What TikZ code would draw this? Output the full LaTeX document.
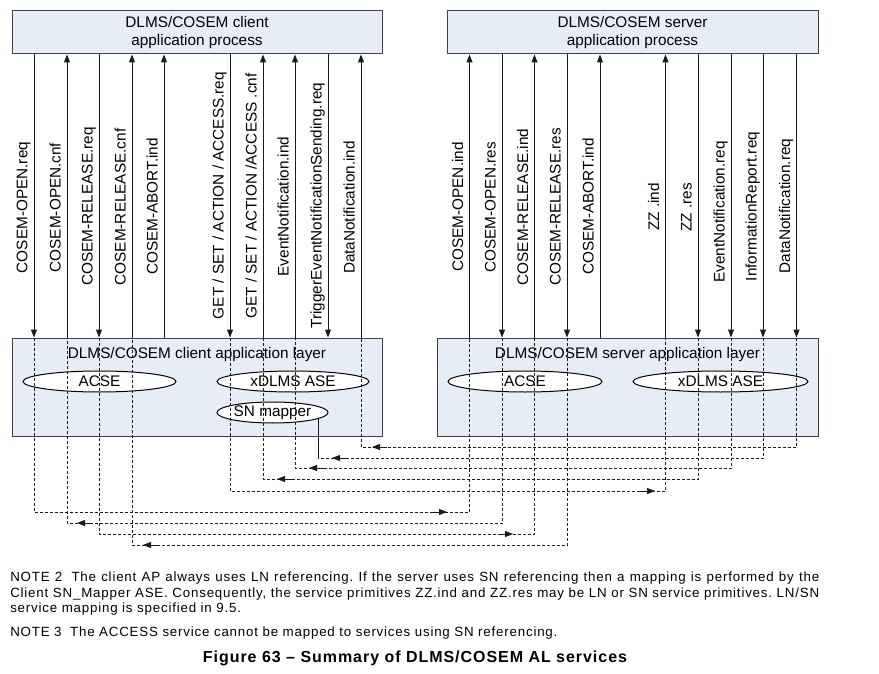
\documentclass[tikz,border=0pt]{standalone}
\usepackage{fontspec}
\setmainfont{Liberation Sans}
\newfontfamily\notefont[LetterSpace=6]{Liberation Sans}
\newfontfamily\capfont[LetterSpace=6]{Liberation Sans}
\usetikzlibrary{arrows.meta,shapes.geometric}
\definecolor{boxfill}{HTML}{E7EDF7}
\definecolor{lncol}{HTML}{1A1A1A}
\definecolor{bordercol}{HTML}{404040}
\frenchspacing
\begin{document}
\begin{tikzpicture}[x=0.75pt,y=-0.75pt,
  font=\fontsize{11.5pt}{13.3pt}\selectfont,
  box/.style={draw=bordercol, fill=boxfill, line width=0.75pt, inner sep=0pt, align=center},
  ell/.style={ellipse, draw=black, fill=white, line width=0.75pt, inner sep=0pt, minimum height=15.75pt},
  vlbl/.style={rotate=90, anchor=base, inner sep=0pt},
  ln/.style={draw=lncol, line width=0.75pt},
  tip/.style={-{Triangle[length=6pt,width=4.5pt]}},
  dsh/.style={draw=lncol, line width=0.75pt, dash pattern=on 2.25pt off 1.5pt},
  note/.style={anchor=base west, inner sep=0pt, font=\notefont\fontsize{10pt}{11pt}\selectfont},
]
\fill[white] (0,0) rectangle (879,674);
\useasboundingbox (0,0) rectangle (879,674);

% boxes
\node[box, minimum width=277.5pt, minimum height=32.25pt] (cap) at (197,32.5) {DLMS/COSEM client\\application process};
\node[box, minimum width=278.25pt, minimum height=32.25pt] (sap) at (632.5,32.5) {DLMS/COSEM server\\application process};
\node[box, minimum width=277.5pt, minimum height=73.5pt] (cal) at (197,387) {};
\node[box, minimum width=285.75pt, minimum height=73.5pt] (sal) at (627.5,387) {};
\node[anchor=base, inner sep=0pt] (calt) at (197,358) {DLMS/COSEM client application layer};
\node[anchor=base, inner sep=0pt] (salt) at (627.5,358) {DLMS/COSEM server application layer};

% ellipses
\node[ell, minimum width=114.75pt] (cacse) at (99.5,381.5) {ACSE};
\node[ell, minimum width=114pt] (cx) at (293,381.5) {xDLMS ASE};
\node[ell, minimum width=83.25pt] (sn) at (272.5,412.5) {SN mapper};
\node[ell, minimum width=115.5pt] (sacse) at (525,381.5) {ACSE};
\node[ell, minimum width=131.25pt] (sx) at (720.5,381.5) {xDLMS ASE};

% client primitives
\draw[ln,tip] (cap.south -| 34,0) -- (cal.north -| 34,0);
\draw[ln,tip] (cal.north -| 67,0) -- (cap.south -| 67,0);
\draw[ln,tip] (cap.south -| 99,0) -- (cal.north -| 99,0);
\draw[ln,tip] (cal.north -| 132,0) -- (cap.south -| 132,0);
\draw[ln,tip] (cal.north -| 164,0) -- (cap.south -| 164,0);
\draw[ln,tip] (cap.south -| 230,0) -- (cal.north -| 230,0);
\draw[ln,tip] (cal.north -| 263,0) -- (cap.south -| 263,0);
\draw[ln,tip] (cal.north -| 295,0) -- (cap.south -| 295,0);
\draw[ln,tip] (cap.south -| 328,0) -- (cal.north -| 328,0);
\draw[ln,tip] (cal.north -| 361,0) -- (cap.south -| 361,0);

% server primitives
\draw[ln,tip] (sal.north -| 469.5,0) -- (sap.south -| 469.5,0);
\draw[ln,tip] (sap.south -| 502,0) -- (sal.north -| 502,0);
\draw[ln,tip] (sal.north -| 534.5,0) -- (sap.south -| 534.5,0);
\draw[ln,tip] (sap.south -| 567,0) -- (sal.north -| 567,0);
\draw[ln,tip] (sal.north -| 600,0) -- (sap.south -| 600,0);
\draw[ln,tip] (sal.north -| 665.5,0) -- (sap.south -| 665.5,0);
\draw[ln,tip] (sap.south -| 698,0) -- (sal.north -| 698,0);
\draw[ln,tip] (sap.south -| 731,0) -- (sal.north -| 731,0);
\draw[ln,tip] (sap.south -| 763,0) -- (sal.north -| 763,0);
\draw[ln,tip] (sap.south -| 796.5,0) -- (sal.north -| 796.5,0);

% client labels
\node[vlbl] (lc1) at (27.5,207.5) {COSEM-OPEN.req};
\node[vlbl] (lc2) at (60.5,207.5) {COSEM-OPEN.cnf};
\node[vlbl] (lc3) at (92.5,206.5) {COSEM-RELEASE.req};
\node[vlbl] (lc4) at (125.5,207) {COSEM-RELEASE.cnf};
\node[vlbl] (lc5) at (157.5,206.5) {COSEM-ABORT.ind};
\node[vlbl] (lc6) at (223.5,195.5) {GET / SET / ACTION / ACCESS.req};
\node[vlbl] (lc7) at (256.5,196) {GET / SET / ACTION /ACCESS .cnf};
\node[vlbl] (lc8) at (288.5,206.5) {EventNotification.ind};
\node[vlbl] (lc9) at (321.5,205.5) {TriggerEventNotificationSending.req};
\node[vlbl] (lc10) at (354.5,207.5) {DataNotification.ind};

% server labels
\node[vlbl] (ls1) at (463,207) {COSEM-OPEN.ind};
\node[vlbl] (ls2) at (495.5,207.5) {COSEM-OPEN.res};
\node[vlbl] (ls3) at (528,207) {COSEM-RELEASE.ind};
\node[vlbl] (ls4) at (560.5,207) {COSEM-RELEASE.res};
\node[vlbl] (ls5) at (593.5,206.5) {COSEM-ABORT.ind};
\node[vlbl] (ls6) at (659,207) {ZZ .ind};
\node[vlbl] (ls7) at (691.5,207.5) {ZZ .res};
\node[vlbl] (ls8) at (724.5,212) {EventNotification.req};
\node[vlbl] (ls9) at (756.5,206.5) {InformationReport.req};
\node[vlbl] (ls10) at (790,206) {DataNotification.req};

% dashed routes through the layers
\draw[dsh] (cal.north -| 34,0) -- (34,512) -| (sal.north -| 469.5,0);
\draw[ln,tip] (432,512) -- (447,512);
\draw[dsh] (sal.north -| 502,0) -- (502,523) -| (cal.north -| 67,0);
\draw[ln,tip] (92,523) -- (77,523);
\draw[dsh] (cal.north -| 99,0) -- (99,534) -| (sal.north -| 534.5,0);
\draw[ln,tip] (498,534) -- (513,534);
\draw[dsh] (sal.north -| 567,0) -- (567,545) -| (cal.north -| 132,0);
\draw[ln,tip] (158,545) -- (143,545);
\draw[dsh] (cal.north -| 230,0) -- (230,491) -| (sal.north -| 665.5,0);
\draw[ln,tip] (640,491) -- (655,491);
\draw[dsh] (sal.north -| 698,0) -- (698,479) -| (cal.north -| 263,0);
\draw[ln,tip] (292,479) -- (277,479);
\draw[dsh] (sal.north -| 731,0) -- (731,468) -| (cal.north -| 295,0);
\draw[ln,tip] (324,468) -- (309,468);
\draw[dsh] (sal.north -| 763,0) |- (sn.-8 |- 0,458);
\draw[ln] (sn.-8 |- 0,458) -- (sn.-8);
\draw[ln,tip] (347,458) -- (332,458);
\draw[dsh] (sal.north -| 796.5,0) -- (796.5,447) -| (cal.north -| 361,0);
\draw[ln,tip] (387,447) -- (372,447);

% notes
\node[note] (n2a) at (10,581) {\makebox[606.75pt][s]{NOTE 2\hspace{0.3em} The client AP always uses LN referencing. If the server uses SN referencing then a mapping is performed by the}};
\node[note] (n2b) at (10,597) {\makebox[606.75pt][s]{Client SN\_Mapper ASE. Consequently, the service primitives ZZ.ind and ZZ.res may be LN or SN service primitives. LN/SN}};
\node[note] (n2c) at (10,612) {service mapping is specified in 9.5.};
\node[note] (n3) at (10,636) {NOTE 3\hspace{0.3em} The ACCESS service cannot be mapped to services using SN referencing.};
\node[anchor=base, inner sep=0pt, font=\capfont\bfseries\fontsize{12pt}{13pt}\selectfont] (cap63) at (415,662) {Figure 63 – Summary of DLMS/COSEM AL services};
\end{tikzpicture}
\end{document}
